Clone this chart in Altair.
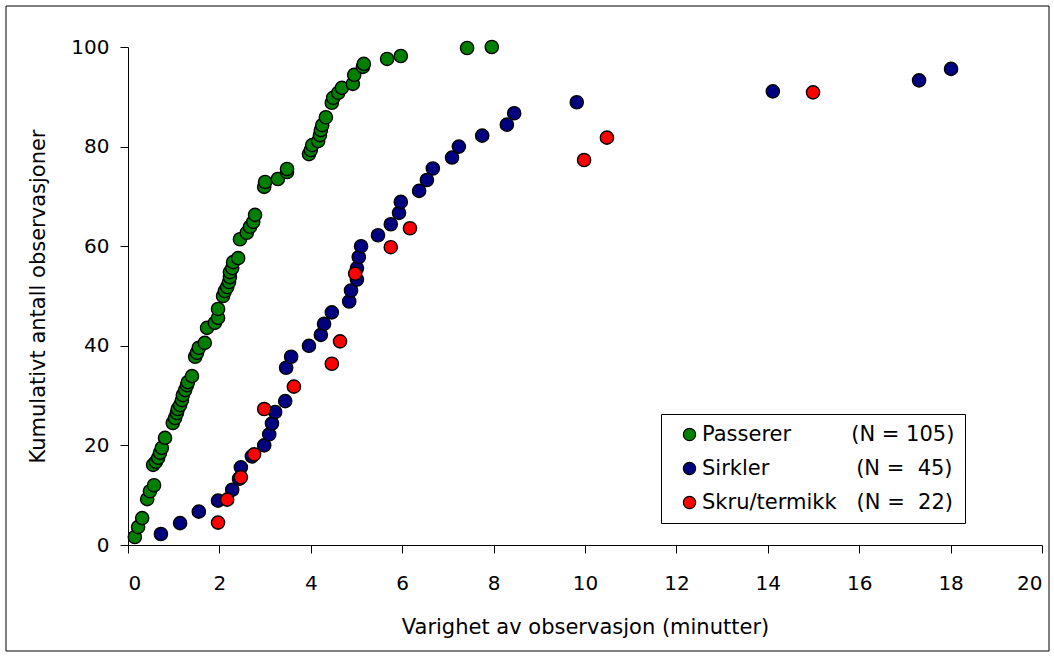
import altair as alt
import pandas as pd

# Cumulative share of observations (%) against observation duration (minutes)
passerer_x = [0.15, 0.22, 0.31, 0.42, 0.48, 0.57, 0.55, 0.61, 0.66, 0.70, 0.74, 0.81,
              0.98, 1.03, 1.07, 1.09, 1.14, 1.18, 1.20, 1.25, 1.29, 1.31, 1.40, 1.47,
              1.51, 1.55, 1.68, 1.73, 1.90, 1.97, 1.97, 2.08, 2.12, 2.17, 2.21, 2.23,
              2.23, 2.28, 2.30, 2.41, 2.45, 2.60, 2.67, 2.74, 2.78, 2.98, 3.00, 3.28,
              3.48, 3.48, 3.96, 4.00, 4.03, 4.16, 4.20, 4.22, 4.25, 4.33, 4.46, 4.49,
              4.60, 4.68, 4.92, 4.95, 5.14, 5.16, 5.67, 5.97, 7.42, 7.96]
passerer_y = [1.6, 3.6, 5.4, 9.2, 10.8, 12.0, 16.1, 16.7, 17.5, 18.5, 19.5, 21.5,
              24.5, 25.5, 26.5, 27.3, 28.1, 29.1, 30.1, 31.1, 32.1, 32.7, 33.9, 37.8,
              38.6, 39.6, 40.6, 43.6, 44.6, 45.6, 47.4, 50.0, 51.0, 51.8, 52.8, 53.8,
              54.8, 55.6, 56.8, 57.6, 61.4, 62.7, 63.9, 64.9, 66.3, 71.9, 72.9, 73.5,
              74.9, 75.5, 78.5, 79.3, 80.3, 81.1, 82.3, 83.3, 84.3, 85.9, 88.8, 89.8,
              90.8, 91.8, 92.6, 94.4, 96.0, 96.6, 97.6, 98.2, 99.8, 100.0]

sirkler_x = [0.72, 1.14, 1.55, 1.97, 2.28, 2.43, 2.47, 2.71, 2.98, 3.09, 3.15, 3.22,
             3.44, 3.46, 3.57, 3.96, 4.22, 4.29, 4.46, 4.84, 4.88, 5.01, 5.01, 5.05,
             5.10, 5.47, 5.75, 5.93, 5.97, 6.37, 6.54, 6.67, 7.09, 7.24, 7.75, 8.29,
             8.45, 9.82, 14.11, 17.31, 18.01]
sirkler_y = [2.2, 4.4, 6.7, 8.9, 11.1, 13.3, 15.6, 17.8, 20.0, 22.2, 24.4, 26.7,
             28.9, 35.6, 37.8, 40.0, 42.2, 44.4, 46.7, 48.9, 51.1, 53.3, 55.6, 57.8,
             60.0, 62.2, 64.4, 66.7, 68.9, 71.1, 73.3, 75.6, 77.8, 80.0, 82.2, 84.4,
             86.7, 88.9, 91.1, 93.3, 95.6]

skru_x = [1.97, 2.17, 2.47, 2.76, 2.98, 3.63, 4.46, 4.64, 4.97, 5.75, 6.17, 9.98,
          10.48, 14.99]
skru_y = [4.5, 9.1, 13.6, 18.2, 27.3, 31.8, 36.4, 40.9, 54.5, 59.8, 63.6, 77.3,
          81.8, 90.9]

series_names = ["Passerer", "Sirkler", "Skru/termikk"]
series_counts = ["(N = 105)", "(N =  45)", "(N =  22)"]
series_colors = ["#008000", "#000080", "#FF0000"]
# non-breaking spaces keep the count column lined up in the legend
label_gaps = [9, 13, 3]

x_ticks = list(range(0, 21, 2))
y_ticks = list(range(0, 101, 20))

FONT = "DejaVu Sans"

frames = []
for name, xs, ys in [("Passerer", passerer_x, passerer_y),
                     ("Sirkler", sirkler_x, sirkler_y),
                     ("Skru/termikk", skru_x, skru_y)]:
    frames.append(pd.DataFrame({"varighet": xs, "kumulativt": ys, "gruppe": name}))
data = pd.concat(frames, ignore_index=True)
data["idx"] = range(len(data))

nb = "\u00a0"
legend_text = {
    n: n + nb * g + c.replace(" ", nb) + nb
    for n, c, g in zip(series_names, series_counts, label_gaps)
}
label_expr = " : ".join(
    f"datum.label == '{k}' ? '{v}'" for k, v in legend_text.items()
) + " : datum.label"

points = alt.Chart(data).mark_circle(
    size=175, opacity=1, stroke="black", strokeWidth=1.4
).encode(
    x=alt.X(
        "varighet:Q",
        scale=alt.Scale(domain=[0, 20], nice=False),
        axis=alt.Axis(
            title="Varighet av observasjon (minutter)",
            values=x_ticks,
            titleY=82,
            titleBaseline="middle",
            labelPadding=20,
        ),
    ),
    y=alt.Y(
        "kumulativt:Q",
        scale=alt.Scale(domain=[0, 100], nice=False),
        axis=alt.Axis(
            title="Kumulativt antall observasjoner",
            values=y_ticks,
            titleX=-90,
            titleBaseline="middle",
            labelPadding=11,
        ),
    ),
    color=alt.Color(
        "gruppe:N",
        scale=alt.Scale(domain=series_names, range=series_colors),
        legend=alt.Legend(
            title=None,
            orient="none",
            legendX=533,
            legendY=367,
            direction="vertical",
            padding=10,
            rowPadding=12,
            symbolType="circle",
            symbolSize=150,
            symbolStrokeColor="black",
            symbolStrokeWidth=1.2,
            symbolOffset=8,
            labelOffset=2,
            labelFont=FONT,
            labelFontSize=21,
            labelColor="black",
            labelLimit=500,
            labelExpr=label_expr,
            strokeColor="black",
            fillColor="white",
        ),
    ),
    order=alt.Order("idx:Q"),
)

# thin outer frame around the whole figure
frame = alt.Chart(pd.DataFrame({"f": [0]})).mark_rect(
    filled=False, stroke="black", strokeWidth=1
).encode(
    x=alt.value(-122), x2=alt.value(921), y=alt.value(-41), y2=alt.value(604)
)

chart = alt.layer(frame, points).properties(
    width=914,
    height=498,
    autosize=alt.AutoSizeParams(type="none"),
    padding={"left": 128, "top": 47, "right": 12, "bottom": 111},
    background="white",
).configure_view(
    stroke=None
).configure_axis(
    grid=False,
    domainColor="black",
    domainWidth=1,
    tickColor="black",
    tickSize=8,
    labelFont=FONT,
    labelFontSize=20,
    labelColor="black",
    titleFont=FONT,
    titleFontSize=21,
    titleFontWeight="normal",
    titleColor="black",
)

chart.save("out.html", embed_options={"renderer": "svg", "actions": False})
